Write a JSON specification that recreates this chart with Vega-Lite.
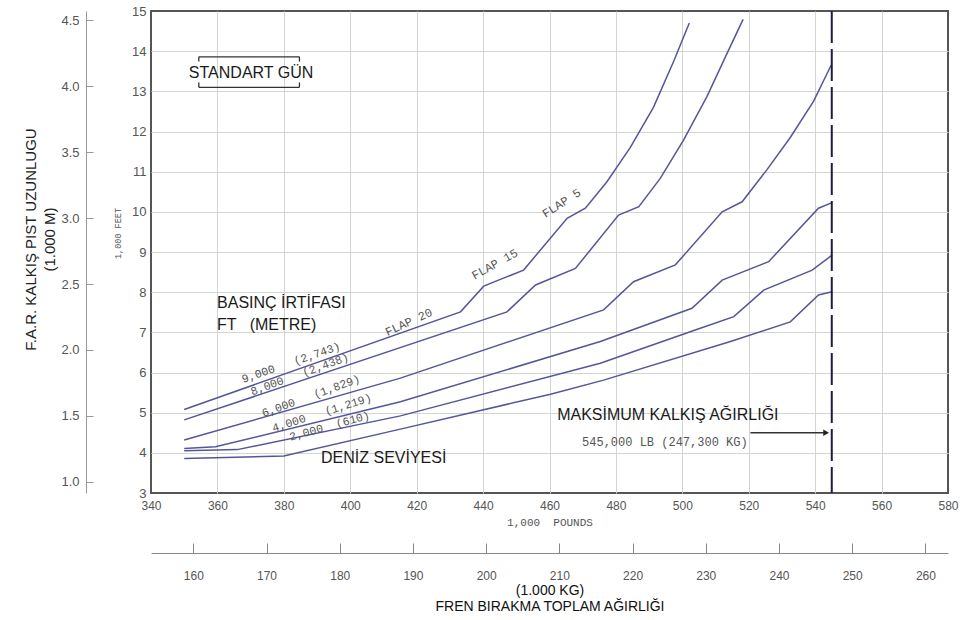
{
  "$schema": "https://vega.github.io/schema/vega-lite/v6.json",
  "width": 797,
  "height": 482,
  "autosize": {"type": "none"},
  "padding": {"left": 151, "top": 11, "right": 13, "bottom": 127},
  "background": "white",
  "config": {
    "view": {"stroke": "#555", "strokeWidth": 2},
    "font": "Liberation Sans"
  },
  "datasets": {
    "curves": [
      {"alt": "9000", "w": 350, "d": 5.08}, {"alt": "9000", "w": 433.2, "d": 7.51}, {"alt": "9000", "w": 440.2, "d": 8.15},
      {"alt": "9000", "w": 452.2, "d": 8.55}, {"alt": "9000", "w": 465.3, "d": 9.84}, {"alt": "9000", "w": 470.8, "d": 10.09},
      {"alt": "9000", "w": 477.3, "d": 10.75}, {"alt": "9000", "w": 484.3, "d": 11.6}, {"alt": "9000", "w": 491.3, "d": 12.6},
      {"alt": "9000", "w": 497.4, "d": 13.75}, {"alt": "9000", "w": 502.1, "d": 14.7},
      {"alt": "8000", "w": 350, "d": 4.82}, {"alt": "8000", "w": 447.2, "d": 7.51}, {"alt": "8000", "w": 455.8, "d": 8.18},
      {"alt": "8000", "w": 467.8, "d": 8.59}, {"alt": "8000", "w": 480.8, "d": 9.92}, {"alt": "8000", "w": 486.9, "d": 10.13},
      {"alt": "8000", "w": 493.4, "d": 10.84}, {"alt": "8000", "w": 500.4, "d": 11.79}, {"alt": "8000", "w": 507.4, "d": 12.87},
      {"alt": "8000", "w": 513.5, "d": 13.95}, {"alt": "8000", "w": 518.3, "d": 14.79},
      {"alt": "6000", "w": 350, "d": 4.32}, {"alt": "6000", "w": 415.1, "d": 5.86}, {"alt": "6000", "w": 476.3, "d": 7.56},
      {"alt": "6000", "w": 485.3, "d": 8.26}, {"alt": "6000", "w": 497.9, "d": 8.68}, {"alt": "6000", "w": 512.0, "d": 10.0},
      {"alt": "6000", "w": 518.0, "d": 10.25}, {"alt": "6000", "w": 525.5, "d": 11.05}, {"alt": "6000", "w": 532.5, "d": 11.85},
      {"alt": "6000", "w": 539.5, "d": 12.75}, {"alt": "6000", "w": 544.8, "d": 13.65},
      {"alt": "4000", "w": 350, "d": 4.11}, {"alt": "4000", "w": 359.4, "d": 4.15}, {"alt": "4000", "w": 415.1, "d": 5.27},
      {"alt": "4000", "w": 475.3, "d": 6.77}, {"alt": "4000", "w": 502.9, "d": 7.6}, {"alt": "4000", "w": 512.0, "d": 8.3},
      {"alt": "4000", "w": 526.0, "d": 8.76}, {"alt": "4000", "w": 541.0, "d": 10.09}, {"alt": "4000", "w": 545.1, "d": 10.23},
      {"alt": "2000", "w": 350, "d": 4.05}, {"alt": "2000", "w": 366, "d": 4.08}, {"alt": "2000", "w": 415.1, "d": 4.92},
      {"alt": "2000", "w": 475.3, "d": 6.23}, {"alt": "2000", "w": 505.4, "d": 7.1}, {"alt": "2000", "w": 515.5, "d": 7.39},
      {"alt": "2000", "w": 524.5, "d": 8.05}, {"alt": "2000", "w": 539.1, "d": 8.55}, {"alt": "2000", "w": 545.1, "d": 8.92},
      {"alt": "0", "w": 350, "d": 3.86}, {"alt": "0", "w": 380, "d": 3.92}, {"alt": "0", "w": 415.1, "d": 4.59},
      {"alt": "0", "w": 460.3, "d": 5.46}, {"alt": "0", "w": 476.3, "d": 5.81}, {"alt": "0", "w": 514.5, "d": 6.77},
      {"alt": "0", "w": 532.5, "d": 7.26}, {"alt": "0", "w": 541.0, "d": 7.93}, {"alt": "0", "w": 545.1, "d": 8.01}
    ],
    "maxw": [{"w": 545}],
    "segs": [
      {"w": 354.4, "w2": 384.7, "d": 13.86, "d2": 13.86},
      {"w": 354.4, "w2": 384.7, "d": 13.10, "d2": 13.10},
      {"w": 354.4, "w2": 354.4, "d": 13.86, "d2": 13.74},
      {"w": 384.7, "w2": 384.7, "d": 13.86, "d2": 13.74},
      {"w": 354.4, "w2": 354.4, "d": 13.10, "d2": 13.22},
      {"w": 384.7, "w2": 384.7, "d": 13.10, "d2": 13.22},
      {"w": 520.5, "w2": 543.5, "d": 4.5, "d2": 4.5}
    ],
    "arrow": [{"w": 543.3, "d": 4.5}],
    "notes": [
      {"k": "big", "t": "STANDART GÜN", "w": 351.4, "d": 13.46},
      {"k": "big", "t": "BASINÇ İRTİFASI", "w": 359.9, "d": 7.72},
      {"k": "big", "t": "FT \u00a0\u00a0(METRE)", "w": 359.9, "d": 7.18},
      {"k": "big", "t": "DENİZ SEVİYESİ", "w": 391.2, "d": 3.86},
      {"k": "big", "t": "MAKSİMUM KALKIŞ AĞIRLIĞI", "w": 462.3, "d": 4.94},
      {"k": "mtow", "t": "545,000 LB (247,300 KG)", "w": 469.8, "d": 4.28},
      {"k": "a19", "t": "9,000\u00a0\u00a0\u00a0(2,743)", "w": 382.2, "d": 6.23},
      {"k": "a20", "t": "8,000\u00a0\u00a0\u00a0(2,438)", "w": 384.8, "d": 5.94},
      {"k": "a20", "t": "6,000\u00a0\u00a0\u00a0(1,829)", "w": 388.2, "d": 5.40},
      {"k": "a17", "t": "4,000\u00a0\u00a0\u00a0(1,219)", "w": 391.5, "d": 4.98},
      {"k": "a15", "t": "2,000\u00a0\u00a0(610)", "w": 393.8, "d": 4.65},
      {"k": "f20", "t": "FLAP\u00a020", "w": 417.6, "d": 7.26},
      {"k": "f15", "t": "FLAP\u00a015", "w": 443.5, "d": 8.70},
      {"k": "f5", "t": "FLAP\u00a05", "w": 463.6, "d": 10.22}
    ],
    "meters": [{"m": 1.0}, {"m": 4.5}],
    "kgs": [{"kg": 160}, {"kg": 260}]
  },
  "layer": [
    {
      "layer": [
        {
          "data": {"name": "curves"},
          "mark": {"type": "line", "color": "#55559a", "strokeWidth": 1.5},
          "encoding": {
            "x": {
              "field": "w", "type": "quantitative",
              "scale": {"domain": [340, 580], "nice": false, "zero": false},
              "axis": {
                "values": [340, 350, 360, 370, 380, 390, 400, 410, 420, 430, 440, 450, 460, 470, 480, 490, 500, 510, 520, 530, 540, 550, 560, 570, 580],
                "labelExpr": "datum.value % 20 == 0 ? datum.label : ''",
                "title": "1,000\u00a0\u00a0POUNDS",
                "titleFont": "Liberation Mono", "titleFontSize": 11, "titleFontWeight": "normal", "titleColor": "#555", "titlePadding": 5,
                "labelFontSize": 12, "labelColor": "#555", "labelPadding": 7, "labelFlush": false, "labelOverlap": false,
                "grid": true, "gridColor": "#d4d4d4", "gridWidth": 1,
                "gridOpacity": {"condition": {"test": "datum.value <= 340 || datum.value >= 580", "value": 0}, "value": 1},
                "ticks": false, "domain": false
              }
            },
            "y": {
              "field": "d", "type": "quantitative",
              "scale": {"domain": [3, 15], "nice": false, "zero": false},
              "axis": {
                "values": [3, 4, 5, 6, 7, 8, 9, 10, 11, 12, 13, 14, 15],
                "title": "1,000\u00a0FEET",
                "titleFont": "Liberation Mono", "titleFontSize": 8.5, "titleFontWeight": "normal", "titleColor": "#555", "titlePadding": 9, "titleY": 222,
                "labelFontSize": 13, "labelColor": "#555", "labelPadding": 5, "labelFlush": false, "labelOverlap": false,
                "grid": true, "gridColor": "#d4d4d4", "gridWidth": 1,
                "gridOpacity": {"condition": {"test": "datum.value <= 3 || datum.value >= 15", "value": 0}, "value": 1},
                "ticks": false, "domain": false
              }
            },
            "detail": {"field": "alt", "type": "nominal"}
          }
        },
        {
          "data": {"name": "maxw"},
          "mark": {"type": "rule", "color": "#1c1c44", "strokeWidth": 2, "strokeDash": [32, 6]},
          "encoding": {"x": {"field": "w", "type": "quantitative"}}
        },
        {
          "data": {"name": "segs"},
          "mark": {"type": "rule", "color": "#333", "strokeWidth": 1.3},
          "encoding": {
            "x": {"field": "w", "type": "quantitative"}, "x2": {"field": "w2"},
            "y": {"field": "d", "type": "quantitative"}, "y2": {"field": "d2"}
          }
        },
        {
          "data": {"name": "arrow"},
          "mark": {"type": "point", "shape": "triangle-right", "filled": true, "color": "#222", "size": 45, "opacity": 1},
          "encoding": {"x": {"field": "w", "type": "quantitative"}, "y": {"field": "d", "type": "quantitative"}}
        },
        {
          "data": {"name": "notes"},
          "transform": [{"filter": "datum.k == 'big'"}],
          "mark": {"type": "text", "align": "left", "baseline": "middle", "fontSize": 16, "color": "#1a1a1a", "font": "Liberation Sans"},
          "encoding": {"x": {"field": "w", "type": "quantitative"}, "y": {"field": "d", "type": "quantitative"}, "text": {"field": "t"}}
        },
        {
          "data": {"name": "notes"},
          "transform": [{"filter": "datum.k == 'mtow'"}],
          "mark": {"type": "text", "align": "left", "baseline": "middle", "fontSize": 12, "color": "#555", "font": "Liberation Mono"},
          "encoding": {"x": {"field": "w", "type": "quantitative"}, "y": {"field": "d", "type": "quantitative"}, "text": {"field": "t"}}
        },
        {
          "data": {"name": "notes"},
          "transform": [{"filter": "datum.k == 'a19'"}],
          "mark": {"type": "text", "align": "center", "baseline": "middle", "fontSize": 11.5, "color": "#555", "font": "Liberation Mono", "angle": -19},
          "encoding": {"x": {"field": "w", "type": "quantitative"}, "y": {"field": "d", "type": "quantitative"}, "text": {"field": "t"}}
        },
        {
          "data": {"name": "notes"},
          "transform": [{"filter": "datum.k == 'a20'"}],
          "mark": {"type": "text", "align": "center", "baseline": "middle", "fontSize": 11.5, "color": "#555", "font": "Liberation Mono", "angle": -20},
          "encoding": {"x": {"field": "w", "type": "quantitative"}, "y": {"field": "d", "type": "quantitative"}, "text": {"field": "t"}}
        },
        {
          "data": {"name": "notes"},
          "transform": [{"filter": "datum.k == 'a17'"}],
          "mark": {"type": "text", "align": "center", "baseline": "middle", "fontSize": 11.5, "color": "#555", "font": "Liberation Mono", "angle": -17.5},
          "encoding": {"x": {"field": "w", "type": "quantitative"}, "y": {"field": "d", "type": "quantitative"}, "text": {"field": "t"}}
        },
        {
          "data": {"name": "notes"},
          "transform": [{"filter": "datum.k == 'a15'"}],
          "mark": {"type": "text", "align": "center", "baseline": "middle", "fontSize": 11.5, "color": "#555", "font": "Liberation Mono", "angle": -15.5},
          "encoding": {"x": {"field": "w", "type": "quantitative"}, "y": {"field": "d", "type": "quantitative"}, "text": {"field": "t"}}
        },
        {
          "data": {"name": "notes"},
          "transform": [{"filter": "datum.k == 'f20'"}],
          "mark": {"type": "text", "align": "center", "baseline": "middle", "fontSize": 12, "color": "#555", "font": "Liberation Mono", "angle": -25},
          "encoding": {"x": {"field": "w", "type": "quantitative"}, "y": {"field": "d", "type": "quantitative"}, "text": {"field": "t"}}
        },
        {
          "data": {"name": "notes"},
          "transform": [{"filter": "datum.k == 'f15'"}],
          "mark": {"type": "text", "align": "center", "baseline": "middle", "fontSize": 12, "color": "#555", "font": "Liberation Mono", "angle": -29},
          "encoding": {"x": {"field": "w", "type": "quantitative"}, "y": {"field": "d", "type": "quantitative"}, "text": {"field": "t"}}
        },
        {
          "data": {"name": "notes"},
          "transform": [{"filter": "datum.k == 'f5'"}],
          "mark": {"type": "text", "align": "center", "baseline": "middle", "fontSize": 12, "color": "#555", "font": "Liberation Mono", "angle": -33},
          "encoding": {"x": {"field": "w", "type": "quantitative"}, "y": {"field": "d", "type": "quantitative"}, "text": {"field": "t"}}
        }
      ]
    },
    {
      "data": {"name": "meters"},
      "mark": {"type": "rule", "opacity": 0},
      "encoding": {
        "y": {
          "field": "m", "type": "quantitative",
          "scale": {"domain": [0.9144, 4.572], "nice": false, "zero": false},
          "axis": {
            "orient": "left", "offset": 65,
            "values": [1, 1.5, 2, 2.5, 3, 3.5, 4, 4.5], "format": ".1f",
            "domain": true, "domainColor": "#999", "domainWidth": 1,
            "ticks": true, "tickColor": "#999", "tickSize": -7, "tickWidth": 1,
            "labelPadding": 14, "labelFontSize": 13, "labelColor": "#555", "labelFlush": false, "labelOverlap": false,
            "grid": false,
            "title": ["F.A.R. KALKIŞ PIST UZUNLUGU", "(1.000 M)"],
            "titleFontSize": 15, "titleFontWeight": "normal", "titleColor": "#222", "titleLineHeight": 19, "titlePadding": 3, "titleY": 228
          }
        }
      }
    },
    {
      "data": {"name": "kgs"},
      "mark": {"type": "rule", "opacity": 0},
      "encoding": {
        "x": {
          "field": "kg", "type": "quantitative",
          "scale": {"domain": [154.222, 263.083], "nice": false, "zero": false},
          "axis": {
            "orient": "bottom", "offset": 60,
            "values": [160, 170, 180, 190, 200, 210, 220, 230, 240, 250, 260],
            "domain": true, "domainColor": "#888", "domainWidth": 1,
            "ticks": true, "tickColor": "#888", "tickSize": -10, "tickWidth": 1,
            "labelPadding": 27, "labelFontSize": 12, "labelColor": "#555", "labelFlush": false, "labelOverlap": false,
            "grid": false,
            "title": ["(1.000 KG)", "FREN BIRAKMA TOPLAM AĞIRLIĞI"],
            "titleFontSize": 14, "titleFontWeight": "normal", "titleColor": "#111", "titleLineHeight": 16, "titlePadding": 2
          }
        }
      }
    }
  ],
  "resolve": {"scale": {"x": "independent", "y": "independent"}, "axis": {"x": "independent", "y": "independent"}}
}
